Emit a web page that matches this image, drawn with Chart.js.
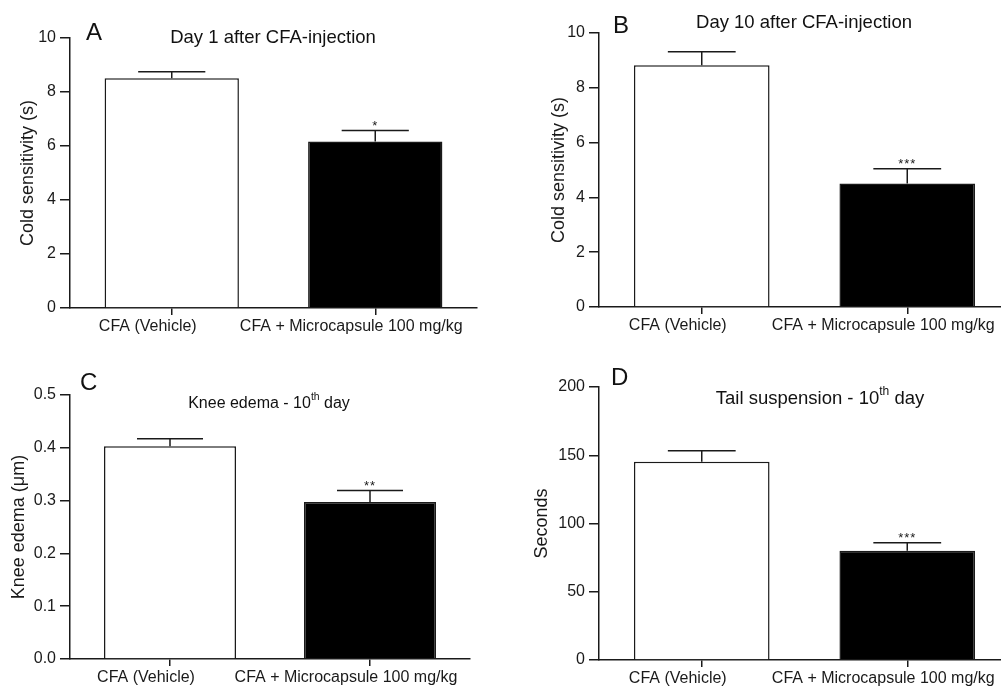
<!DOCTYPE html>
<html>
<head>
<meta charset="utf-8">
<script src="https://cdn.jsdelivr.net/npm/chart.js@4.4.0/dist/chart.umd.min.js"></script>
<style>
  body { margin: 0; background: #fff; width: 1001px; height: 691px; overflow: hidden; position: relative; }
  .panel { position: absolute; overflow: hidden; }
  .panel canvas { position: absolute; left: 0; top: 0; }
  .letter, .title { position: absolute; font-family: "Liberation Sans", Arial, Helvetica, sans-serif; color: #111; white-space: nowrap; }
  .letter { font-size: 24px; line-height: 24px; }
  .title { font-size: 18.5px; line-height: 18px; width: 400px; text-align: center; }
  .title sup { font-size: 0.65em; line-height: 0; vertical-align: 0.75em; }
</style>
</head>
<body>
<div class="panel" style="left:0;top:0;width:500px;height:345px"><canvas id="chartA"></canvas></div>
<div class="panel" style="left:500px;top:0;width:501px;height:345px"><canvas id="chartB"></canvas></div>
<div class="panel" style="left:0;top:345px;width:500px;height:346px"><canvas id="chartC"></canvas></div>
<div class="panel" style="left:500px;top:345px;width:501px;height:346px"><canvas id="chartD"></canvas></div>

<div class="letter" style="left:86px;top:20px">A</div>
<div class="letter" style="left:613px;top:13px">B</div>
<div class="letter" style="left:80px;top:370px">C</div>
<div class="letter" style="left:611px;top:365px">D</div>

<div class="title" style="left:73px;top:28px">Day 1 after CFA-injection</div>
<div class="title" style="left:604px;top:13px">Day 10 after CFA-injection</div>
<div class="title" style="left:69px;top:395px;font-size:16px;line-height:16px">Knee edema - 10<sup>th</sup> day</div>
<div class="title" style="left:620px;top:389px">Tail suspension - 10<sup>th</sup> day</div>

<script>
const categories = ["CFA (Vehicle)", "CFA + Microcapsule 100 mg/kg"];
const barColors = ["#ffffff", "#000000"];

// A - cold sensitivity day 1
const coldDay1 = [8.51, 6.17];
const coldDay1Err = [0.24, 0.40];
const coldDay1Stars = ["", "*"];

// B - cold sensitivity day 10
const coldDay10 = [8.82, 4.51];
const coldDay10Err = [0.50, 0.54];
const coldDay10Stars = ["", "***"];

// C - knee edema
const kneeEdema = [0.403, 0.2975];
const kneeEdemaErr = [0.014, 0.0215];
const kneeEdemaStars = ["", "**"];

// D - tail suspension
const tailSusp = [145.3, 80.1];
const tailSuspErr = [8.0, 5.8];
const tailSuspStars = ["", "***"];

const FONT = '"Liberation Sans", Arial, Helvetica, sans-serif';
const INK = "#1a1a1a";
Chart.defaults.font.family = FONT;
Chart.defaults.color = INK;

// error bars (upper only) + significance stars
const errorBars = {
  id: "errorBars",
  afterDatasetsDraw(chart) {
    const ctx = chart.ctx;
    const ds = chart.data.datasets[0];
    const meta = chart.getDatasetMeta(0);
    const y = chart.scales.y;
    ctx.save();
    ctx.strokeStyle = INK;
    ctx.lineWidth = 1.5;
    meta.data.forEach((bar, i) => {
      const top = y.getPixelForValue(ds.data[i]);
      const capY = y.getPixelForValue(ds.data[i] + ds.errors[i]);
      const half = bar.width / 4;
      ctx.beginPath();
      ctx.moveTo(bar.x, top);
      ctx.lineTo(bar.x, capY);
      ctx.moveTo(bar.x - half, capY);
      ctx.lineTo(bar.x + half, capY);
      ctx.stroke();
      if (ds.stars[i]) {
        ctx.fillStyle = INK;
        ctx.font = "13px " + FONT;
        ctx.letterSpacing = "1px";
        ctx.textAlign = "center";
        ctx.textBaseline = "alphabetic";
        ctx.fillText(ds.stars[i], bar.x, capY - 1);
      }
    });
    ctx.restore();
  }
};

function makePanel(id, w, h, area, values, errs, stars, yMax, yStep, yTitle, titlePad, decimals) {
  const canvas = document.getElementById(id);
  canvas.width = w;
  canvas.height = h;
  canvas.style.width = w + "px";
  canvas.style.height = h + "px";
  return new Chart(canvas, {
    type: "bar",
    data: {
      labels: categories,
      datasets: [{
        data: values,
        errors: errs,
        stars: stars,
        backgroundColor: barColors,
        borderColor: INK,
        borderWidth: 1.5,
        barPercentage: 0.66,
        categoryPercentage: 1
      }]
    },
    options: {
      responsive: false,
      animation: false,
      devicePixelRatio: 1,
      layout: { padding: { left: 0, top: area.top, right: w - area.right, bottom: 0 } },
      plugins: { legend: { display: false }, tooltip: { enabled: false } },
      scales: {
        x: {
          offset: true,
          grid: { offset: false, display: true, drawOnChartArea: false, drawTicks: true, tickLength: 7, color: INK, lineWidth: 1.5 },
          border: { display: true, color: INK, width: 1.5 },
          ticks: { font: { size: 16 }, color: INK, padding: 2, labelOffset: -24, maxRotation: 0, autoSkip: false },
          afterFit: s => { s.height = h - area.bottom; }
        },
        y: {
          min: 0,
          max: yMax,
          grid: { display: true, drawOnChartArea: false, drawTicks: true, tickLength: 10, color: INK, lineWidth: 1.5 },
          border: { display: true, color: INK, width: 1.5 },
          ticks: { stepSize: yStep, font: { size: 16 }, color: INK, padding: 4,
                   callback: v => v.toFixed(decimals) },
          title: { display: true, text: yTitle, font: { size: 18 }, color: INK, padding: { top: titlePad, bottom: 0 } },
          afterFit: s => { s.width = area.left; }
        }
      }
    },
    plugins: [errorBars]
  });
}

makePanel("chartA", 500, 345, { left: 70, right: 477, top: 38, bottom: 308 },
  coldDay1, coldDay1Err, coldDay1Stars, 10, 2, "Cold sensitivity (s)", 17, 0);
makePanel("chartB", 530, 345, { left: 99, right: 510, top: 33, bottom: 307 },
  coldDay10, coldDay10Err, coldDay10Stars, 10, 2, "Cold sensitivity (s)", 48, 0);
makePanel("chartC", 500, 346, { left: 70, right: 470, top: 50, bottom: 314 },
  kneeEdema, kneeEdemaErr, kneeEdemaStars, 0.5, 0.1, "Knee edema (\u03bcm)", 8, 1);
makePanel("chartD", 530, 346, { left: 99, right: 510, top: 42, bottom: 315 },
  tailSusp, tailSuspErr, tailSuspStars, 200, 50, "Seconds", 31, 0);
</script>
</body>
</html>
